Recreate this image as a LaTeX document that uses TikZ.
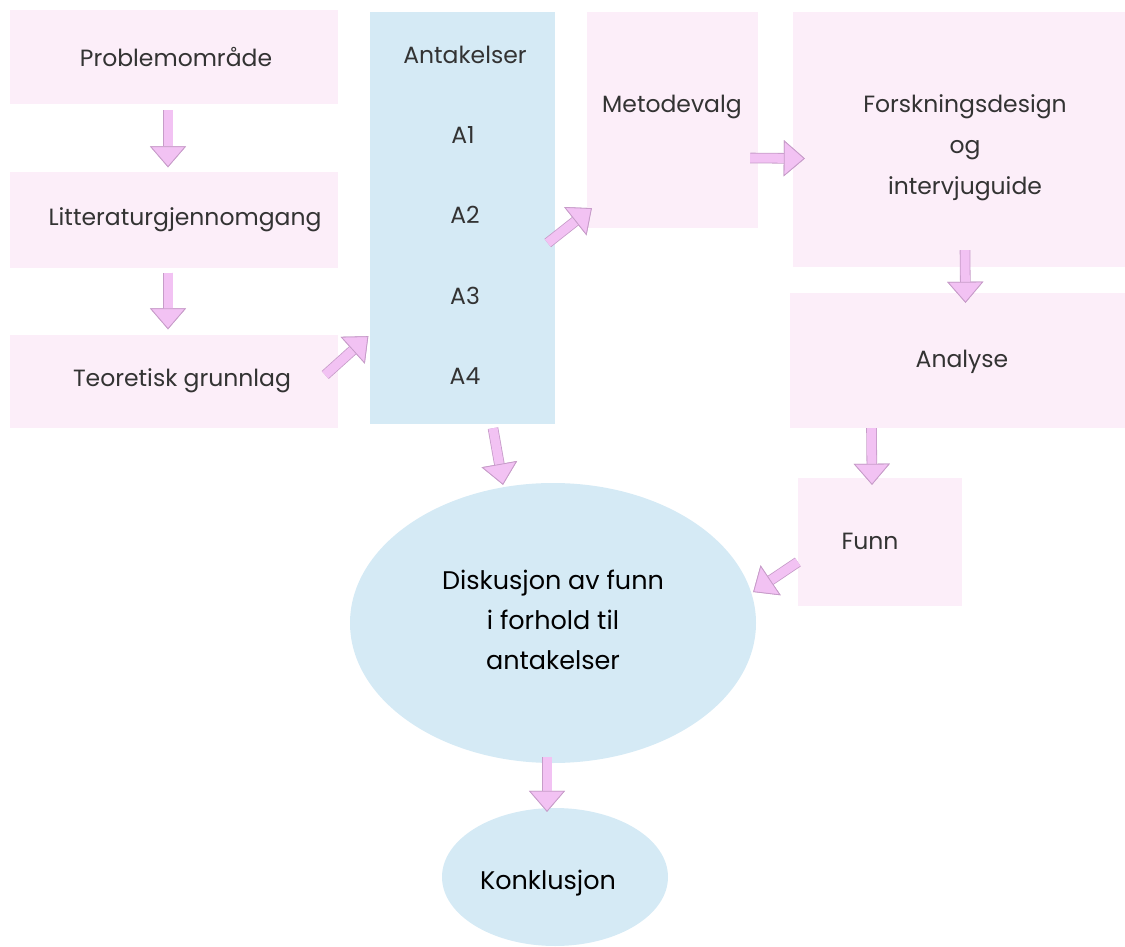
\documentclass[tikz,border=0pt]{standalone}
\usepackage{fontspec}
\setmainfont{Poppins}
\usetikzlibrary{arrows.meta,shapes.geometric,calc}
\definecolor{boxpink}{HTML}{FCEEF9}
\definecolor{boxblue}{HTML}{D5EAF5}
\definecolor{apink}{HTML}{F2C2F3}
\definecolor{aline}{HTML}{C79CC9}
\definecolor{txt}{HTML}{333333}
\tikzset{
  pbox/.style={rectangle, fill=boxpink, draw=none, inner sep=0pt},
  bbox/.style={rectangle, fill=boxblue, draw=none, inner sep=0pt},
  bell/.style={ellipse, fill=boxblue, draw=none, inner sep=0pt},
  lbl/.style={text=txt, font=\fontsize{23.5}{28}\selectfont, align=center, inner sep=0pt},
  blbl/.style={text=black, font=\fontsize{25.5}{40}\selectfont, align=center, inner sep=0pt},
  barrow/.style={line width=9pt, draw=apink,
    -{Triangle[width=36pt,length=21pt,line width=0.8pt,color=aline,fill=apink]},
    preaction={draw=aline, line width=10.6pt,
    -{Triangle[width=36pt,length=21pt,line width=0.8pt,color=aline,fill=apink]}}}
}
\begin{document}
\begin{tikzpicture}[x=1pt,y=-1pt]
\useasboundingbox (0,0) rectangle (1125,947);
% left column
\node[pbox, minimum width=328pt, minimum height=94pt] (pb) at (174,57) {};
\node[lbl] (pbt) at (176,57) {Problemområde};
\node[pbox, minimum width=328pt, minimum height=95pt] (lit) at (174,220) {};
\node[lbl] (litt) at (185,220) {Litteraturgjennomgang};
\node[pbox, minimum width=328pt, minimum height=93pt] (teo) at (174,381) {};
\node[lbl] (teot) at (182,381) {Teoretisk grunnlag};
% assumptions
\node[bbox, minimum width=185pt, minimum height=412pt] (ant) at (462,218) {};
\node[lbl] (antt) at (465,55) {Antakelser};
\node[lbl] (a1) at (463,135) {A1};
\node[lbl] (a2) at (465,215) {A2};
\node[lbl] (a3) at (465,296) {A3};
\node[lbl] (a4) at (465,376) {A4};
% method
\node[pbox, minimum width=171pt, minimum height=216pt] (met) at (672.5,120) {};
\node[lbl] (mett) at (672,107) {Metodevalg};
\node[pbox, minimum width=332pt, minimum height=255pt] (fd) at (959,139.5) {};
\node[lbl, font=\fontsize{23.5}{41}\selectfont] (fdt) at (965,148) {Forskningsdesign\\og\\intervjuguide};
\node[pbox, minimum width=335pt, minimum height=135pt] (ana) at (957.5,360.5) {};
\node[lbl] (anat) at (962,362) {Analyse};
\node[pbox, minimum width=164pt, minimum height=128pt] (funn) at (880,542) {};
\node[lbl] (funnt) at (870,541) {Funn};
% ellipses
\node[bell, minimum width=406pt, minimum height=280pt] (disk) at (553,623) {};
\node[blbl] (diskt) at (553,620) {Diskusjon av funn\\i forhold til\\antakelser};
\node[bell, minimum width=226pt, minimum height=138pt] (kon) at (555,877) {};
\node[blbl] (kont) at (548,883) {Konklusjon};
% arrows
\draw[barrow] ([shift={(-6,6)}]pb.south) -- ([shift={(-6,-5)}]lit.north);
\draw[barrow] ([shift={(-6,5)}]lit.south) -- ([shift={(-6,-5)}]teo.north);
\draw[barrow] ([shift={(-13,-6)}]teo.east) -- ([shift={(-1,-88)}]ant.south west);
\draw[barrow] ([shift={(-7,25)}]ant.east) -- ([shift={(5,-20)}]met.south west);
\draw[barrow] ([shift={(-8,38)}]met.east) -- ([shift={(12,19)}]fd.west);
\draw[barrow] ([shift={(6,-17)}]fd.south) -- ([shift={(8,10)}]ana.north);
\draw[barrow] ([shift={(-86,0)}]ana.south) -- ([shift={(-8,7)}]funn.north);
\draw[barrow] ([shift={(0,20)}]funn.west) -- ([shift={(-3,-31)}]disk.east);
\draw[barrow] ([shift={(31,4)}]ant.south) -- ([shift={(-50,2)}]disk.north);
\draw[barrow] ([shift={(-6,-6)}]disk.south) -- ([shift={(-8,4)}]kon.north);
\end{tikzpicture}
\end{document}
